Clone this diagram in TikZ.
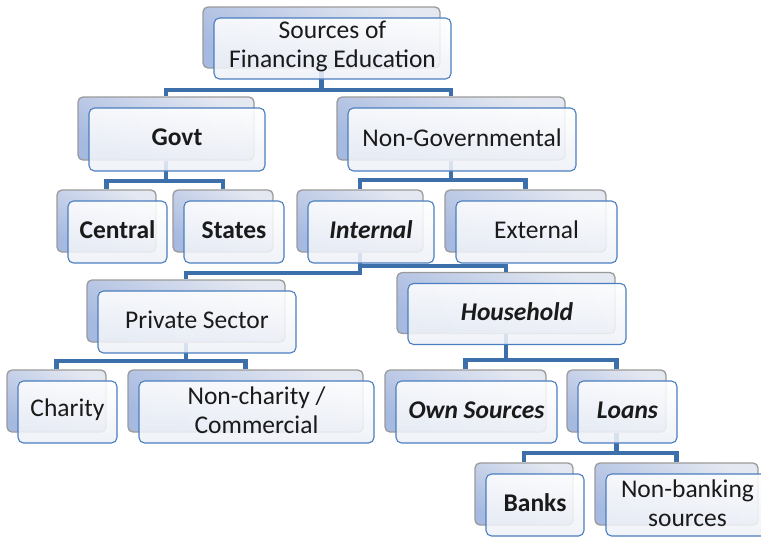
\documentclass[tikz,border=0pt]{standalone}
\usepackage{fontspec}
\setmainfont{Carlito}

\definecolor{linkblue}{HTML}{3D6FAA}
\definecolor{edgeblue}{HTML}{4A7EBF}
\definecolor{backtop}{HTML}{E4E8F1}
\definecolor{backbot}{HTML}{A6B9E0}
\definecolor{backrim}{HTML}{9A9A9A}
\definecolor{frontbot}{HTML}{EDF0F6}
\definecolor{ink}{HTML}{1A1A1A}

\tikzset{
  backbox/.style={rectangle, rounded corners=5pt, draw=backrim, line width=1.3pt,
    top color=backtop, bottom color=backbot, shading angle=-30, inner sep=0pt},
  frontbox/.style={rectangle, rounded corners=5.5pt, draw=edgeblue, line width=1.1pt,
    top color=white, bottom color=frontbot, fill opacity=0.87, draw opacity=1,
    inner sep=0pt},
  cardtext/.style={text=ink, align=center, inner sep=0pt,
    font=\fontsize{25.5}{29.5}\selectfont},
  link/.style={draw=linkblue, line width=4.2pt, line join=miter},
}

% back plate of a tier box: name, centre x, centre y, width, height
\newcommand\backplate[5]{\node[backbox, minimum width=#4pt, minimum height=#5pt] (#1-b) at (#2,#3) {};}
% front card, shifted down-right from its plate, with its label: name, width, height, text
\newcommand\frontcard[4]{%
  \node[frontbox, minimum width=#2pt, minimum height=#3pt] (#1) at ([shift={(11,11)}]#1-b.center) {};
  \node[cardtext] (#1-t) at ([yshift=2pt]#1.center) {#4};}
% elbow connector from a parent plate to a child plate, bending at height #3
\newcommand\elbow[3]{\draw[link] (#1-b.south) -- (#1-b.south |- 0,#3) -| (#2-b.north);}

\begin{document}
\begin{tikzpicture}[x=1pt, y=-1pt]
  \useasboundingbox (0,0) rectangle (761,536);
  \clip (0,0) rectangle (761,536);

  % plates
  \backplate{top}{321.5}{37.5}{237}{61}
  \backplate{govt}{166}{128.5}{176}{63}
  \backplate{nongov}{451}{128.5}{228}{63}
  \backplate{central}{106.5}{221}{99}{62}
  \backplate{states}{223}{221}{100}{62}
  \backplate{internal}{360}{221}{126}{62}
  \backplate{external}{525.5}{221}{161}{62}
  \backplate{private}{186}{311}{198}{62}
  \backplate{household}{506}{303}{218}{61}
  \backplate{charity}{56.5}{401}{99}{62}
  \backplate{noncharity}{245.5}{401}{235}{62}
  \backplate{own}{465.5}{401}{161}{62}
  \backplate{loans}{616.5}{401}{99}{62}
  \backplate{banks}{524}{494}{98}{62}
  \backplate{nonbank}{676.5}{494}{163}{62}

  % connectors
  \elbow{top}{govt}{90}
  \elbow{top}{nongov}{90}
  \elbow{govt}{central}{181}
  \elbow{govt}{states}{181}
  \elbow{nongov}{internal}{180}
  \elbow{nongov}{external}{180}
  \elbow{internal}{private}{273}
  \elbow{internal}{household}{266}
  \elbow{private}{charity}{361}
  \elbow{private}{noncharity}{361}
  \elbow{household}{own}{360}
  \elbow{household}{loans}{360}
  \elbow{loans}{banks}{453}
  \elbow{loans}{nonbank}{453}

  % cards
  \frontcard{top}{237}{61}{Sources of\\Financing Education}
  \frontcard{govt}{176}{63}{\textbf{Govt}}
  \frontcard{nongov}{228}{63}{Non-Governmental}
  \frontcard{central}{99}{62}{\textbf{Central}}
  \frontcard{states}{100}{62}{\textbf{States}}
  \frontcard{internal}{126}{62}{\textbf{\textit{Internal}}}
  \frontcard{external}{161}{62}{External}
  \frontcard{private}{198}{62}{Private Sector}
  \frontcard{household}{218}{61}{\textbf{\textit{Household}}}
  \frontcard{charity}{99}{62}{Charity}
  \frontcard{noncharity}{235}{62}{Non-charity /\\Commercial}
  \frontcard{own}{161}{62}{\textbf{\textit{Own Sources}}}
  \frontcard{loans}{99}{62}{\textbf{\textit{Loans}}}
  \frontcard{banks}{98}{62}{\textbf{Banks}}
  \frontcard{nonbank}{163}{62}{Non-banking\\sources}
\end{tikzpicture}
\end{document}
